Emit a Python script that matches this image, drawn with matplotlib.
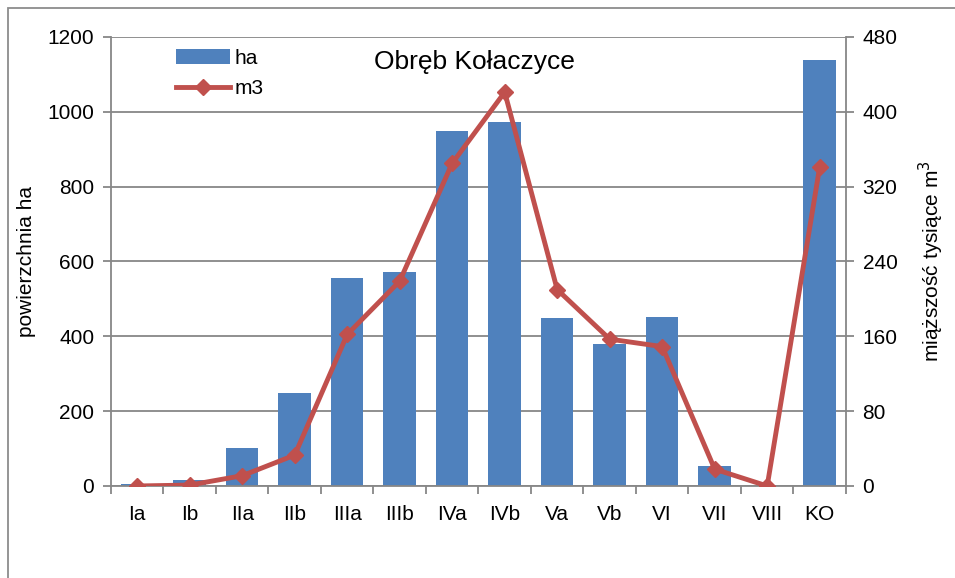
import matplotlib
matplotlib.use("Agg")
import matplotlib.pyplot as plt
from matplotlib.patches import Rectangle
import numpy as np

plt.rcParams['font.family'] = ['Liberation Sans', 'DejaVu Sans']

# dane
klasy = ['Ia', 'Ib', 'IIa', 'IIb', 'IIIa', 'IIIb', 'IVa', 'IVb', 'Va', 'Vb', 'VI', 'VII', 'VIII', 'KO']
ha = [5, 15, 101, 248, 556, 573, 948, 973, 449, 380, 451, 53, 0, 1139]
m3 = [0, 1, 11, 33, 162, 219, 345, 421, 210, 157, 149, 18, 0, 341]

blue = '#4F81BD'
red = '#C0504D'
grey = '#878787'

fig = plt.figure(figsize=(9.55, 5.78), dpi=100)
ax = fig.add_axes([0.1162, 0.1592, 0.7696, 0.7768])
ax2 = ax.twinx()

x = np.arange(len(klasy))
ax.bar(x, ha, width=0.62, color=blue, label='ha', zorder=2)
ax2.plot(x, m3, '-D', color=red, lw=3.5, ms=8, label='m3', zorder=3)

ax.set_xlim(-0.5, len(klasy) - 0.5)
ax.set_ylim(0, 1200)
ax2.set_ylim(0, 480)
ax.set_yticks(np.arange(0, 1201, 200))
ax2.set_yticks(np.arange(0, 481, 80))
ax.set_xticks(x)
ax.set_xticklabels(klasy)
ax.set_xticks(np.arange(-0.5, len(klasy), 1), minor=True)

ax.yaxis.grid(True, color=grey, lw=1.3, zorder=0)
ax.set_axisbelow(True)

for a in (ax, ax2):
    for s in a.spines.values():
        s.set_visible(False)
ax.spines['left'].set_visible(True)
ax.spines['left'].set_color(grey)
ax.spines['left'].set_linewidth(1.3)
ax.spines['bottom'].set_visible(True)
ax.spines['bottom'].set_color(grey)
ax.spines['bottom'].set_linewidth(1.3)
ax2.spines['right'].set_visible(True)
ax2.spines['right'].set_color(grey)
ax2.spines['right'].set_linewidth(1.3)

ax.tick_params(axis='x', which='major', length=0, labelsize=15, pad=14)
ax.tick_params(axis='x', which='minor', length=6, color=grey, width=1.3)
ax.tick_params(axis='y', length=6, color=grey, width=1.3, labelsize=15, pad=6)
ax2.tick_params(axis='y', length=6, color=grey, width=1.3, labelsize=15, pad=6)

ax.set_ylabel('powierzchnia ha', fontsize=15, labelpad=8)
ax2.set_ylabel('miąższość tysiące m$^3$', fontsize=15, labelpad=14)

ax.text(0.494, 0.944, 'Obręb Kołaczyce', transform=ax.transAxes, ha='center', va='center', fontsize=19)

h1, l1 = ax.get_legend_handles_labels()
h2, l2 = ax2.get_legend_handles_labels()
ax2.legend(h1 + h2, l1 + l2, loc='upper left', bbox_to_anchor=(0.063, 1.015), frameon=False,
           fontsize=15, handlelength=2.6, handletextpad=0.2, labelspacing=0.55, borderpad=0.4)

# ramka wokół obszaru wykresu
fig.patches.append(Rectangle((8 / 955, -0.1), 1.2, 1.1 - 8 / 578, transform=fig.transFigure,
                             fill=False, edgecolor='#8c8c8c', lw=1.3))

fig.savefig('out.png', dpi=100)
